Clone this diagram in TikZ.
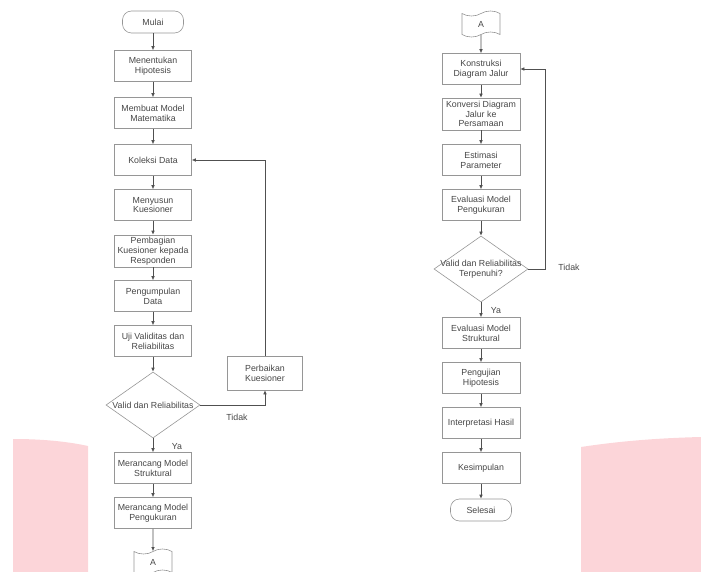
\documentclass[tikz,border=0pt]{standalone}
\usepackage{fontspec}
\setmainfont{Liberation Sans}
\usetikzlibrary{arrows.meta,shapes.geometric,shapes.symbols}
\definecolor{pinkband}{RGB}{252,213,217}
\definecolor{boxline}{RGB}{150,150,150}
\definecolor{arrowline}{RGB}{80,80,80}
\definecolor{labeltext}{RGB}{70,70,70}

\begin{document}
\begin{tikzpicture}[x=1pt, y=-1pt, line width=0.6pt,
    every node/.style={font=\fontsize{8.8}{9.8}\selectfont, text=labeltext},
    process/.style={draw=boxline, minimum width=77pt, minimum height=31pt, align=center, inner sep=0.5pt},
    terminal/.style={draw=boxline, rounded corners=9pt, minimum width=61pt, minimum height=22pt},
    decision/.style={draw=boxline, diamond, minimum width=94pt, minimum height=66pt, inner sep=0pt},
    offpage/.style={draw=boxline, tape, minimum width=38pt, minimum height=26pt},
    conn/.style={draw=arrowline, -{Latex[length=4pt,width=3.5pt]}}]
        \useasboundingbox (0, 0) rectangle (701, 572);
        % pink bands behind the page
        \fill[pinkband] (13, 439) .. controls (40, 439) and (65, 441) .. (88, 446) -- (88, 572) -- (13, 572) -- cycle;
        \fill[pinkband] (581, 447) .. controls (620, 441) and (660, 438) .. (701, 437) -- (701, 572) -- (581, 572) -- cycle;

        % left column
        \node[terminal] (mulai) at (153, 22) {Mulai};
        \node[process] (hipotesis) at (153, 66) {Menentukan\\Hipotesis};
        \node[process] (matematika) at (153, 113) {Membuat Model\\Matematika};
        \node[process] (koleksi) at (153, 160) {Koleksi Data};
        \node[process] (menyusun) at (153, 205) {Menyusun\\Kuesioner};
        \node[process, minimum height=32pt] (pembagian) at (153, 251) {Pembagian\\Kuesioner kepada\\Responden};
        \node[process] (pengumpulan) at (153, 296) {Pengumpulan\\Data};
        \node[process] (uji) at (153, 341) {Uji Validitas dan\\Reliabilitas};
        \node[decision] (validA) at (153, 405) {};
        \node (validAtext) at (validA) {Valid dan Reliabilitas};
        \node[process, minimum width=75pt, minimum height=34pt] (perbaikan) at (265, 373) {Perbaikan\\Kuesioner};
        \node[process] (struktural) at (153, 468) {Merancang Model\\Struktural};
        \node[process] (pengukuran) at (153, 513) {Merancang Model\\Pengukuran};
        \node[offpage] (keluar) at (153, 562) {A};
        \node (tidakA) at (237, 417) {Tidak};
        \node (yaA) at (177, 447) {Ya};

        \draw[conn] (mulai) -- (hipotesis);
        \draw[conn] (hipotesis) -- (matematika);
        \draw[conn] (matematika) -- (koleksi);
        \draw[conn] (koleksi) -- (menyusun);
        \draw[conn] (menyusun) -- (pembagian);
        \draw[conn] (pembagian) -- (pengumpulan);
        \draw[conn] (pengumpulan) -- (uji);
        \draw[conn] (uji) -- (validA);
        \draw[conn] (validA.east) -| (perbaikan.south);
        \draw[conn] (perbaikan.north) |- (koleksi.east);
        \draw[conn] (validA.south) -- (struktural);
        \draw[conn] (struktural) -- (pengukuran);
        \draw[conn] (pengukuran) -- (keluar);

        % right column
        \node[offpage] (masuk) at (481, 24) {A};
        \node[process, minimum width=78pt] (konstruksi) at (481, 69) {Konstruksi\\Diagram Jalur};
        \node[process, minimum width=78pt, minimum height=32pt] (konversi) at (481, 114) {Konversi Diagram\\Jalur ke\\Persamaan};
        \node[process, minimum width=78pt] (estimasi) at (481, 160) {Estimasi\\Parameter};
        \node[process, minimum width=78pt] (evalukur) at (481, 205) {Evaluasi Model\\Pengukuran};
        \node[decision] (validB) at (481, 269) {};
        \node[align=center] (validBtext) at (validB) {Valid dan Reliabilitas\\Terpenuhi?};
        \coordinate (balik) at (545, 269);
        \node[process, minimum width=78pt] (evalstruktur) at (481, 333) {Evaluasi Model\\Struktural};
        \node[process, minimum width=78pt] (pengujian) at (481, 378) {Pengujian\\Hipotesis};
        \node[process, minimum width=78pt] (interpretasi) at (481, 423) {Interpretasi Hasil};
        \node[process, minimum width=78pt] (kesimpulan) at (481, 468) {Kesimpulan};
        \node[terminal] (selesai) at (481, 510) {Selesai};
        \node (tidakB) at (569, 267) {Tidak};
        \node (yaB) at (496, 311) {Ya};

        \draw[conn] (masuk) -- (konstruksi);
        \draw[conn] (konstruksi) -- (konversi);
        \draw[conn] (konversi) -- (estimasi);
        \draw[conn] (estimasi) -- (evalukur);
        \draw[conn] (evalukur) -- (validB);
        \draw[conn] (validB.east) -- (balik) |- (konstruksi.east);
        \draw[conn] (validB.south) -- (evalstruktur);
        \draw[conn] (evalstruktur) -- (pengujian);
        \draw[conn] (pengujian) -- (interpretasi);
        \draw[conn] (interpretasi) -- (kesimpulan);
        \draw[conn] (kesimpulan) -- (selesai);
    \end{tikzpicture}
\end{document}
